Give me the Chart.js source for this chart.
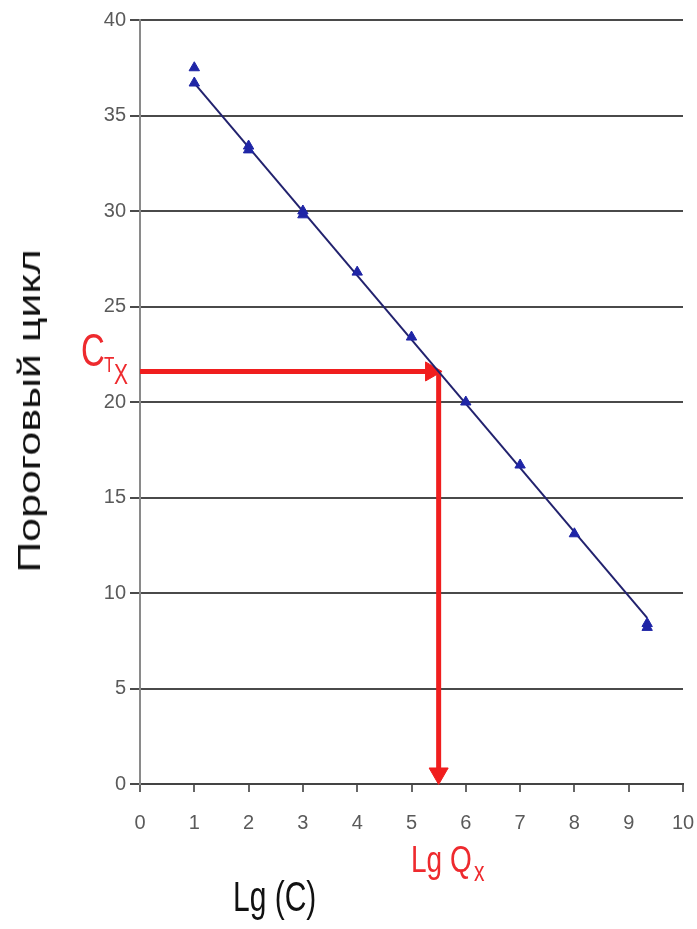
<!DOCTYPE html>
<html>
<head>
<meta charset="utf-8">
<script src="https://cdn.jsdelivr.net/npm/chart.js@4/dist/chart.umd.min.js"></script>
<style>
  html, body { margin: 0; padding: 0; background: #fff; }
  #wrap { position: relative; width: 697px; height: 929px; overflow: hidden; }
  #c { position: absolute; left: 0; top: 0; }
  .t { position: absolute; white-space: nowrap; line-height: 1; font-family: 'Liberation Sans', Arial, sans-serif; transform-origin: 0 0; }
  .red { color: #ee2a2e; }
</style>
</head>
<body>
<div id="wrap">
  <canvas id="c" width="697" height="929"></canvas>
  <div class="t" id="ytitle" style="left:29px;top:411px;font-size:32px;color:#111;transform-origin:50% 50%;transform:translate(-50%,-50%) rotate(-90deg) scaleX(1.34);">Пороговый цикл</div>
  <div class="t" style="left:233px;top:876px;font-size:30px;color:#111;transform:scaleY(1.4);">Lg (C)</div>
  <div class="t red" style="left:81px;top:326px;font-size:33px;transform:scaleY(1.42);">C</div>
  <div class="t red" style="left:104px;top:354px;font-size:17px;transform:scaleY(1.3);">T</div>
  <div class="t red" style="left:114px;top:359px;font-size:21px;transform:scaleY(1.4);">X</div>
  <div class="t red" style="left:411px;top:842px;font-size:28px;transform:scaleY(1.3);">Lg Q</div>
  <div class="t red" style="left:474px;top:858px;font-size:21px;transform:scaleY(1.3);">x</div>
</div>
<script>
// ---- data ----
const lgC       = [1,    1,    2,    2,    3,    3,    4,    5,    6,    7,    8,    9.34, 9.34];
const threshold = [37.5, 36.7, 33.4, 33.2, 30.0, 29.8, 26.8, 23.4, 20.0, 16.7, 13.1, 8.4,  8.2];
const regX = [1, 9.34];
const regY = [36.7, 8.7];
const ctX  = 21.6;   // threshold cycle of the unknown sample
const lgQx = 5.5;    // its Lg Q
const arrowHeadX = 5.36;  // centre of the right-pointing arrow head (x units)
const arrowHeadY = 0.55;  // centre of the down-pointing arrow head (y units)
const xTicks = [0, 1, 2, 3, 4, 5, 6, 7, 8, 9, 10];
const yTicks = [0, 5, 10, 15, 20, 25, 30, 35, 40];

const pts = lgC.map((x, i) => ({ x: x, y: threshold[i] }));
const reg = regX.map((x, i) => ({ x: x, y: regY[i] }));

const tickFont = { family: "'Liberation Sans Narrow', 'Liberation Sans', Arial, sans-serif", size: 20 };

new Chart(document.getElementById('c'), {
  type: 'scatter',
  data: {
    datasets: [
      { // measured points
        data: pts, order: 0, showLine: false,
        pointStyle: 'triangle', pointRadius: 6,
        backgroundColor: '#1f25a6', borderColor: '#1f25a6', borderWidth: 1, clip: false
      },
      { // regression line
        data: reg, order: 1, showLine: true, pointRadius: 0,
        borderColor: '#22226e', borderWidth: 2, clip: false
      },
      { // horizontal red arrow
        data: [{ x: 0, y: ctX }, { x: lgQx, y: ctX }], order: 2, showLine: true, pointRadius: 0,
        borderColor: '#f01e1e', borderWidth: 5, clip: false
      },
      { // vertical red arrow
        data: [{ x: lgQx, y: ctX }, { x: lgQx, y: arrowHeadY }], order: 2, showLine: true, pointRadius: 0,
        borderColor: '#f01e1e', borderWidth: 5, clip: false
      },
      { // arrow heads
        data: [{ x: arrowHeadX, y: ctX }, { x: lgQx, y: arrowHeadY }], order: 2, showLine: false,
        pointStyle: 'triangle', pointRadius: 11, pointRotation: [90, 180],
        backgroundColor: '#f01e1e', borderColor: '#f01e1e', borderWidth: 1, clip: false
      }
    ]
  },
  options: {
    responsive: false,
    animation: false,
    devicePixelRatio: 1,
    layout: { padding: { top: 20, right: 0, left: 0, bottom: 0 } },
    plugins: { legend: { display: false }, tooltip: { enabled: false } },
    scales: {
      x: {
        type: 'linear', min: 0, max: 10,
        afterBuildTicks: s => { s.ticks = xTicks.map(v => ({ value: v })); },
        afterFit: s => { s.height = 145; s.paddingRight = 14; s.paddingLeft = 0; },
        ticks: { font: tickFont, color: '#5a5a5a', padding: 19, maxRotation: 0 },
        grid: { drawOnChartArea: false, drawTicks: true, tickLength: 8, color: '#666', lineWidth: 2 },
        border: { display: true, color: '#444', width: 2 }
      },
      y: {
        type: 'linear', min: 0, max: 40,
        afterBuildTicks: s => { s.ticks = yTicks.map(v => ({ value: v })); },
        afterFit: s => { s.width = 140; s.paddingTop = 0; s.paddingBottom = 0; },
        ticks: { font: tickFont, color: '#5a5a5a', padding: 4 },
        grid: { drawOnChartArea: true, drawTicks: true, tickLength: 10, color: '#4a4a4a', lineWidth: 2 },
        border: { display: true, color: '#8a8a8a', width: 2 }
      }
    }
  }
});
</script>
</body>
</html>
